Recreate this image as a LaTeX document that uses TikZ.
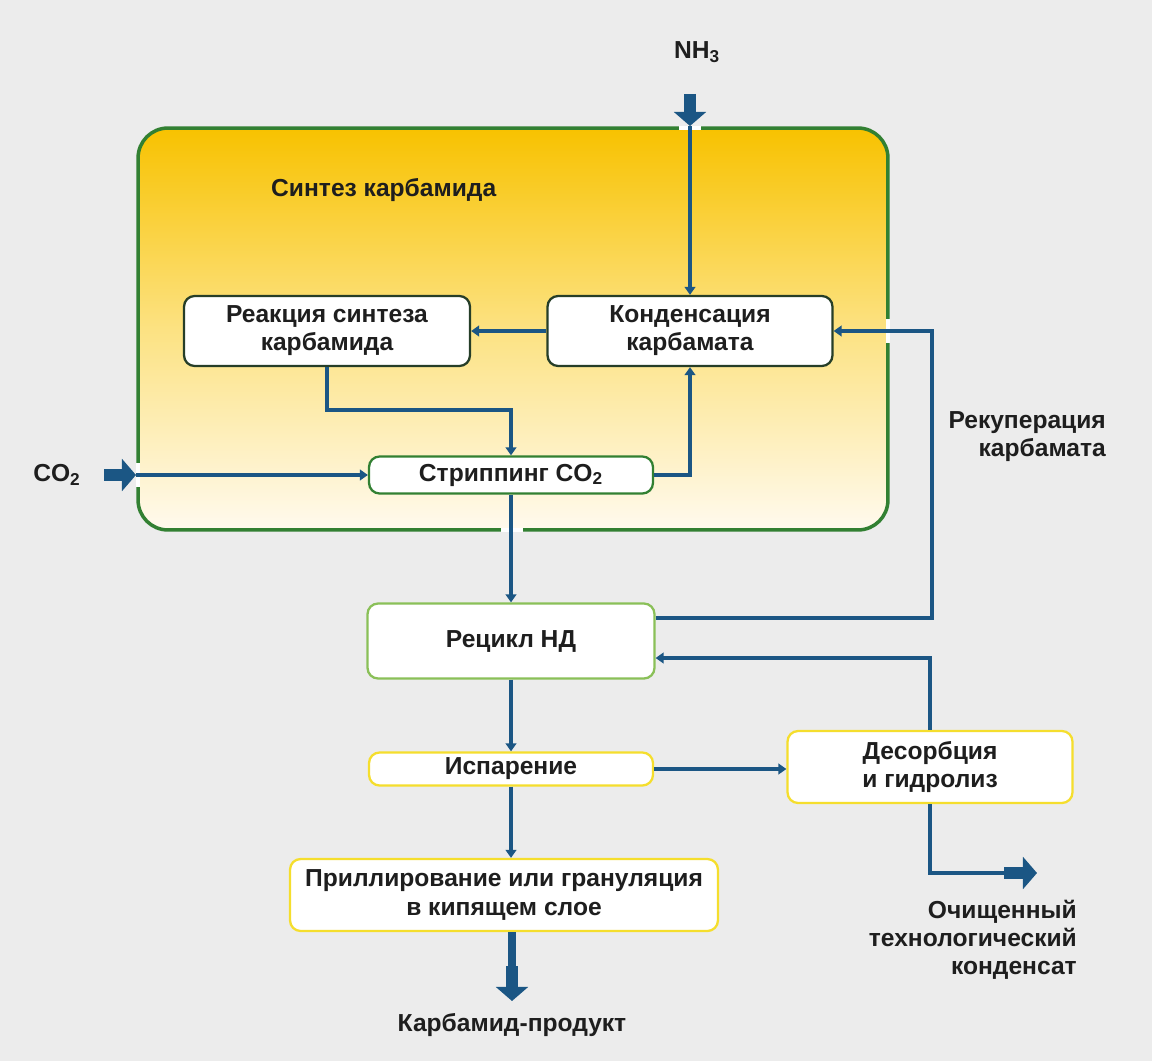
\documentclass[tikz,border=0pt]{standalone}
\usepackage{fontspec}
\setmainfont{Liberation Sans}
\usepackage{xcolor}
\usetikzlibrary{arrows.meta}

\definecolor{flowblue}{RGB}{27,86,132}
\definecolor{framegreen}{RGB}{50,128,50}
\definecolor{darkedge}{RGB}{38,62,40}
\definecolor{lightgreen}{RGB}{138,192,88}
\definecolor{boxyellow}{RGB}{245,222,45}
\definecolor{gold}{RGB}{248,194,0}
\definecolor{softgold}{RGB}{252,226,130}
\definecolor{cream}{RGB}{255,250,238}
\definecolor{paper}{RGB}{236,236,236}
\definecolor{ink}{RGB}{30,30,30}

\begin{document}
\begin{tikzpicture}[
		x=0.02cm, y=-0.02cm,
		txt/.style={text=ink, font=\fontsize{14}{16}\selectfont\bfseries},
		box/.style={txt, draw, rounded corners=6pt, fill=white, align=center,
				line width=1.3pt, inner sep=2pt},
		frame/.style={draw=framegreen, line width=2pt, rounded corners=17pt,
				top color=gold, bottom color=cream, middle color=softgold},
		flow/.style={flowblue, line width=2.3pt, -{Triangle[width=6pt,length=4.5pt]}},
		pipe/.style={flowblue, line width=2.3pt},
		bigarr/.style={flowblue, line width=7pt, -{Triangle[width=18pt,length=8pt]}},
		gap/.style={white, line width=2.6pt}
		]
		\useasboundingbox[fill=paper] (0,0) rectangle (1152,1061);

		% synthesis block
		\node[frame, minimum width=15cm, minimum height=8.04cm] (synth) at (513,329) {};
		\node[txt, anchor=west] (title) at (265,190) {Синтез карбамида};

		\node[box, draw=darkedge, minimum width=5.72cm, minimum height=1.4cm] (reak) at (327,331) {Реакция синтеза\\карбамида};
		\node[box, draw=darkedge, minimum width=5.7cm, minimum height=1.4cm] (kond) at (690,331) {Конденсация\\карбамата};
		\node[box, draw=framegreen, minimum width=5.68cm, minimum height=0.74cm] (strip) at (511,475) {Стриппинг CO\textsubscript{2}};

		% downstream units
		\node[box, draw=lightgreen, minimum width=5.74cm, minimum height=1.5cm] (recyc) at (511,641) {Рецикл НД};
		\node[box, draw=boxyellow, minimum width=5.68cm, minimum height=0.66cm] (evap) at (511,769) {Испарение};
		\node[box, draw=boxyellow, minimum width=5.7cm, minimum height=1.44cm] (desorb) at (930,767) {Десорбция\\и гидролиз};
		\node[box, draw=boxyellow, minimum width=8.56cm, minimum height=1.44cm] (prill) at (504,895) {Приллирование или грануляция\\в кипящем слое};

		% feeds and products
		\node[txt] (nh3) at (697,52) {NH\textsubscript{3}};
		\node[txt] (co2) at (57,475) {CO\textsubscript{2}};
		\node[txt] (urea) at (512,1025) {Карбамид-продукт};
		\node[txt, align=right, anchor=east] (recup) at (1112,437) {Рекуперация\\карбамата};
		\node[txt, align=right, anchor=east] (cond) at (1083,940) {Очищенный\\технологический\\конденсат};

		\coordinate (nhtail) at (690,94);
		\coordinate (nhtip) at (690,126);
		\coordinate (cotail) at (104,475);
		\coordinate (cotip) at (136,475);
		\coordinate (outtail) at (1004,873);
		\coordinate (outtip) at (1037,873);
		\coordinate (ureatail) at (512,966);
		\coordinate (ureatip) at (512,1001);

		% breaks in the frame
		\foreach \gx/\gy/\gdx/\gdy in {690/128/11/0, 512/530/11/0, 138/475/0/12, 888/331/0/12}
		\draw[gap] (\gx-\gdx,\gy-\gdy) -- (\gx+\gdx,\gy+\gdy);

		\draw[bigarr] (nhtail) -- (nhtip);
		\draw[bigarr] (cotail) -- (cotip);
		\draw[flow] (nhtip) -- (kond.north);
		\draw[flow] (cotip) -- (strip.west);
		\draw[flow] (kond) -- (reak);
		\draw[flow] (reak.south) -- (reak.south |- 0,410) -| (strip.north);
		\draw[flow] (strip.east) -| (kond.south);
		\draw[flow] (strip) -- (recyc);
		\draw[flow] (recyc.east |- 0,618) -- (932,618) |- (kond.east);
		\draw[flow] (desorb.north) -- (desorb.north |- 0,658) -- (recyc.east |- 0,658);
		\draw[flow] (recyc) -- (evap);
		\draw[flow] (evap.east) -- (evap.east -| desorb.west);
		\draw[flow] (evap.south) -- (evap.south |- prill.north);
		\draw[pipe] (desorb.south) |- ([xshift=3pt]outtail);
		\draw[bigarr] (outtail) -- (outtip);
		\draw[flowblue, line width=4pt] (prill.south -| ureatail) -- (ureatail);
		\draw[bigarr] (ureatail) -- (ureatip);
	\end{tikzpicture}
\end{document}
